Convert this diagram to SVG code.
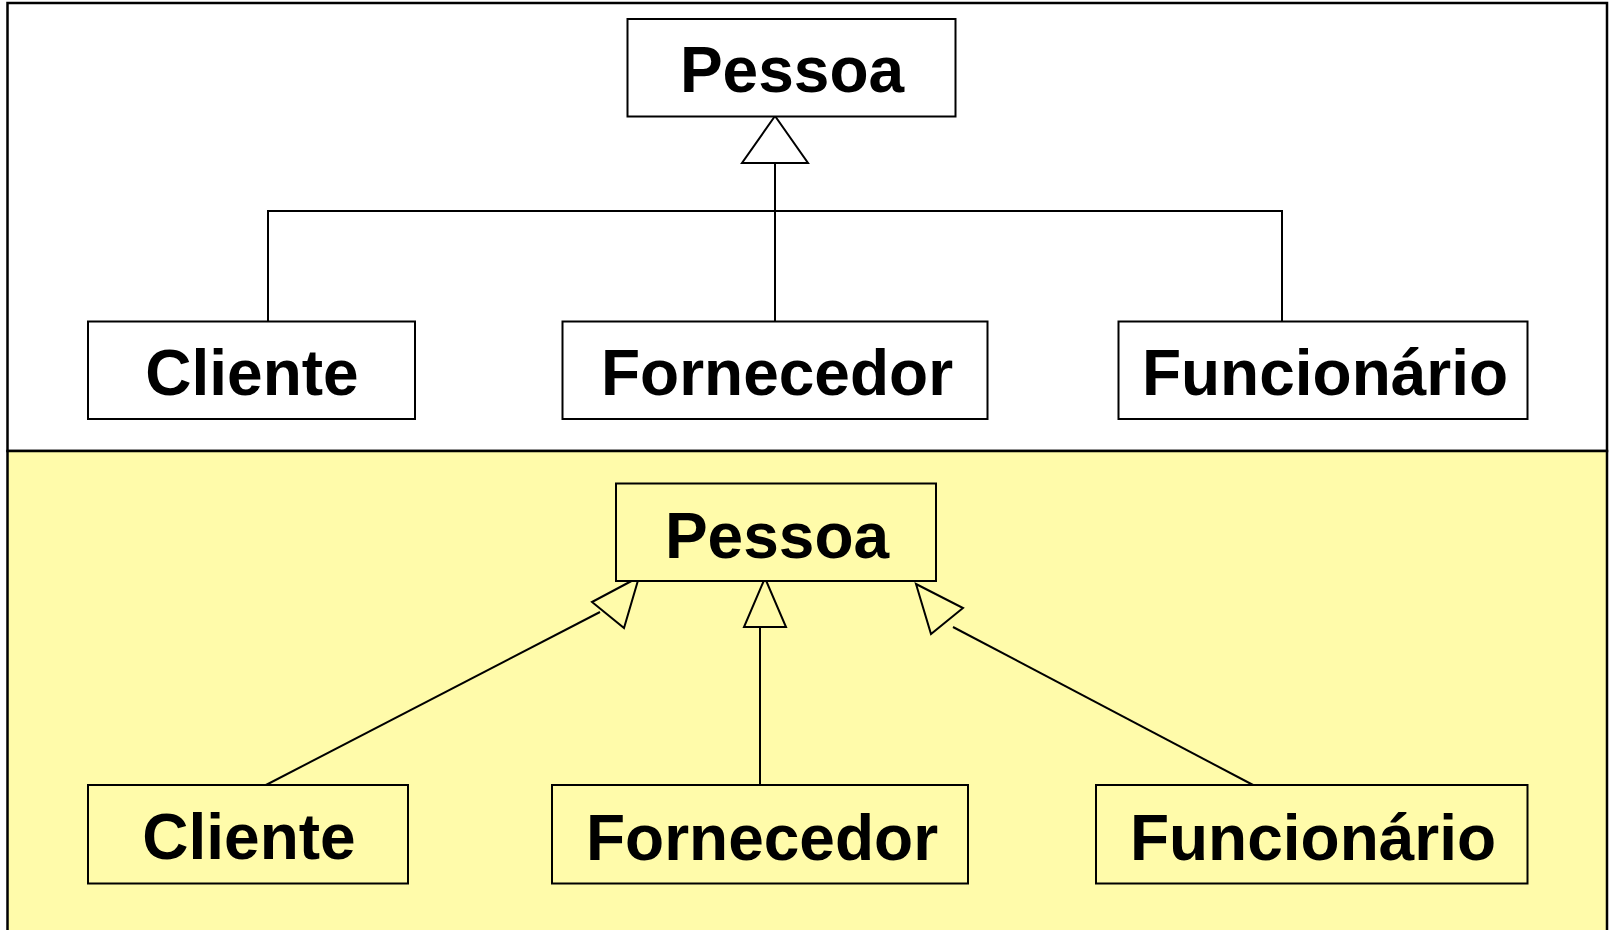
<svg xmlns="http://www.w3.org/2000/svg" width="1610" height="930" viewBox="0 0 1610 930">
<style>
.box{stroke:#000;stroke-width:2;}
.top{fill:#fff;}
.bot{fill:#FFFBAA;}
.lbl{font-family:"Liberation Sans",Arial,sans-serif;font-weight:bold;font-size:64px;text-anchor:middle;fill:#000;}
.ln{stroke:#000;stroke-width:2;fill:none;}
.tri{stroke:#000;stroke-width:2;fill:none;stroke-linejoin:miter;}
</style>
<rect x="0" y="0" width="1610" height="930" fill="#fff"/>
<rect x="7.5" y="3" width="1599.5" height="448" fill="#fff" stroke="#000" stroke-width="2.5"/>
<rect x="7.5" y="451" width="1599.5" height="485" fill="#FFFBAA" stroke="#000" stroke-width="2.5"/>
<g id="connectors">
  <polygon class="tri" points="775,116 742,163 808,163"/>
  <path class="ln" d="M775,163 V321 M268,321 V211 H1282 V321"/>
  <polygon class="tri" points="765,578 744,627 786,627"/>
  <path class="ln" d="M760,627 V785"/>
  <polygon class="tri" points="639,577 592,602 624,628"/>
  <path class="ln" d="M600,612 L264,786"/>
  <polygon class="tri" points="916,584 963,608 931,634"/>
  <path class="ln" d="M953,627 L1255,786"/>
</g>
<g id="pessoa1"><rect class="box top" x="627.5" y="19" width="328" height="97.5"/><text class="lbl" x="792" y="91.5">Pessoa</text></g>
<g id="cliente1"><rect class="box top" x="88" y="321.5" width="327" height="97.5"/><text class="lbl" x="252" y="394.5">Cliente</text></g>
<g id="fornecedor1"><rect class="box top" x="562.5" y="321.5" width="425" height="97.5"/><text class="lbl" x="777" y="394.5">Fornecedor</text></g>
<g id="funcionario1"><rect class="box top" x="1118.5" y="321.5" width="409" height="97.5"/><text class="lbl" x="1325" y="394.5">Funcionário</text></g>
<g id="pessoa2"><rect class="box bot" x="616" y="483.5" width="320" height="97.5"/><text class="lbl" x="777" y="558">Pessoa</text></g>
<g id="cliente2"><rect class="box bot" x="88" y="785" width="320" height="98.5"/><text class="lbl" x="249" y="859">Cliente</text></g>
<g id="fornecedor2"><rect class="box bot" x="552" y="785" width="416" height="98.5"/><text class="lbl" x="762" y="859.5">Fornecedor</text></g>
<g id="funcionario2"><rect class="box bot" x="1096" y="785" width="431.5" height="98.5"/><text class="lbl" x="1313" y="859.5">Funcionário</text></g>
</svg>
